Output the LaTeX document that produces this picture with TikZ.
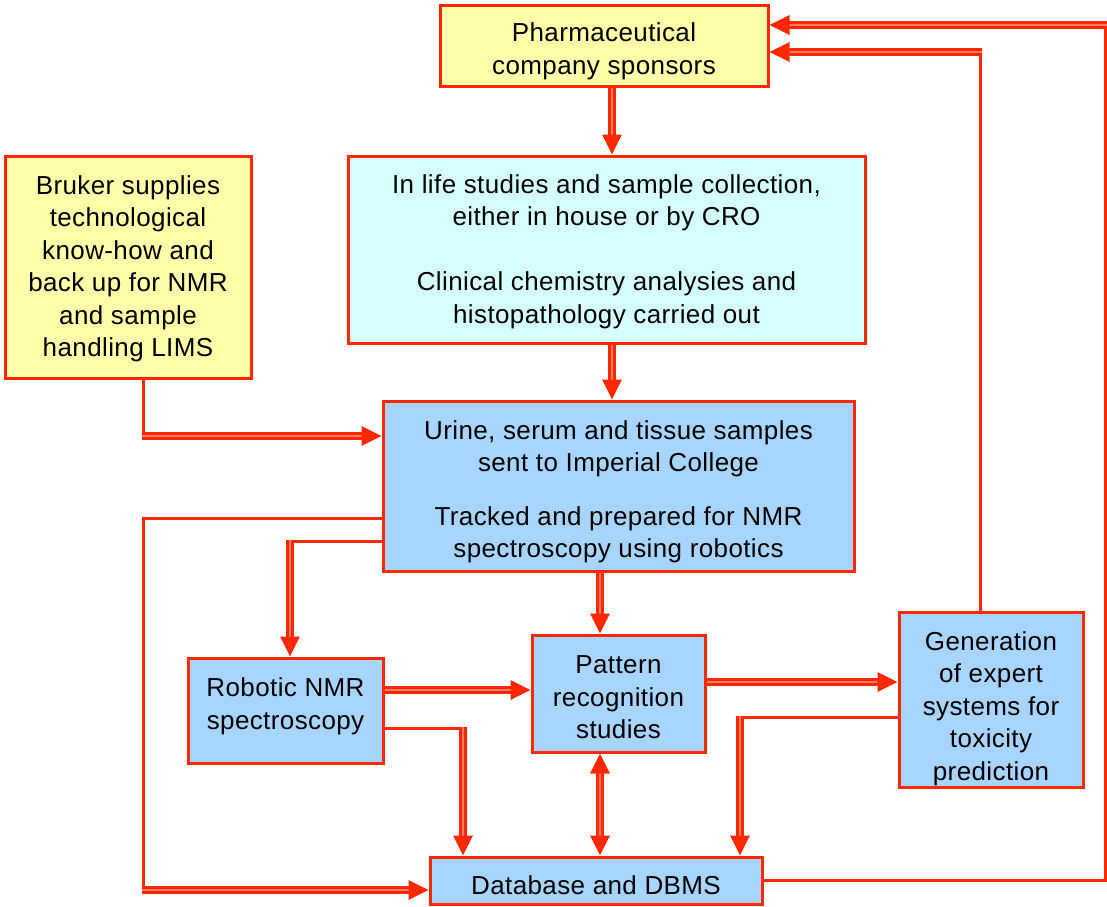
\documentclass[tikz,border=0pt]{standalone}
\usepackage{fontspec}
\setmainfont{Liberation Sans}[LetterSpace=1.5]
\usetikzlibrary{arrows.meta}
\definecolor{flowred}{RGB}{255,40,0}
\definecolor{flowcore}{RGB}{255,125,100}
\definecolor{sponsorfill}{RGB}{255,255,170}
\definecolor{lifefill}{RGB}{213,255,255}
\definecolor{labfill}{RGB}{168,213,255}
\begin{document}
\begin{tikzpicture}[x=1pt,y=-1pt,
	flowbox/.style={draw=flowred,line width=3pt,inner sep=0pt,align=center,
		font=\fontsize{26}{32.5}\selectfont},
	link/.style={draw=flowred,line width=3pt},
	feed/.style={draw=flowred,line width=3.4pt,double=flowcore,double distance=1.1pt,
		-{Triangle[width=19pt,length=20pt]}},
	feedboth/.style={feed,{Triangle[width=19pt,length=20pt]}-{Triangle[width=19pt,length=20pt]}}]
	\useasboundingbox (0,0) rectangle (1107,906);
	\node[flowbox,text height=57.5pt,text depth=0pt,fill=sponsorfill,minimum width=328pt,minimum height=81pt] (sponsor) at (604,45.5)
		{Pharmaceutical\\company sponsors};
	\node[flowbox,text depth=1.5pt,fill=sponsorfill,minimum width=246pt,minimum height=222pt] (bruker) at (128,267)
		{Bruker supplies\\technological\\know-how and\\back up for NMR\\and sample\\handling LIMS};
	\node[flowbox,text depth=1.5pt,fill=lifefill,minimum width=517pt,minimum height=187pt] (life) at (606.5,249.5)
		{In life studies and sample collection,\\either in house or by CRO\\[32.5pt]
		Clinical chemistry analysies and\\histopathology carried out};
	\node[flowbox,text height=143.5pt,text depth=0pt,fill=labfill,minimum width=471pt,minimum height=170pt] (urine) at (618.5,486)
		{Urine, serum and tissue samples\\sent to Imperial College\\[21pt]
		Tracked and prepared for NMR\\spectroscopy using robotics};
	\node[flowbox,text depth=13.5pt,fill=labfill,minimum width=195pt,minimum height=105pt] (robot) at (285.5,710.5)
		{Robotic NMR\\spectroscopy};
	\node[flowbox,text height=90pt,text depth=0pt,fill=labfill,minimum width=173pt,minimum height=117pt] (pattern) at (618.5,693.5)
		{Pattern\\recognition\\studies};
	\node[flowbox,text height=161pt,text depth=0pt,fill=labfill,minimum width=184pt,minimum height=175pt] (expert) at (991,699.5)
		{Generation\\of expert\\systems for\\toxicity\\prediction};
	\node[flowbox,text height=27pt,text depth=0pt,fill=labfill,minimum width=332pt,minimum height=47pt] (db) at (596,880.5)
		{Database and DBMS};

	\coordinate (brk) at ([xshift=15pt]bruker.south);
	\coordinate (urw) at ([yshift=50pt]urine.west);
	\coordinate (urs) at ([yshift=-55pt]urine.west);
	\coordinate (urd) at ([yshift=-32pt]urine.west);
	\coordinate (rbn) at ([xshift=4.5pt]robot.north);
	\coordinate (rbe) at ([yshift=-17.5pt]robot.east);
	\coordinate (exw) at ([yshift=-17.5pt]expert.west);
	\coordinate (exn) at ([xshift=-11pt]expert.north);
	\coordinate (dbw) at ([yshift=-9.5pt]db.west);
	\coordinate (dbl) at ([xshift=-133pt]db.north);
	\coordinate (dbr) at ([xshift=144pt]db.north);
	\coordinate (spa) at ([yshift=20.5pt]sponsor.east);
	\coordinate (spb) at ([yshift=-6.5pt]sponsor.east);
	\coordinate (rim) at (1105,880.5);

	\draw[feed] ([xshift=8pt]sponsor.south) -- ([xshift=5.5pt]life.north);
	\draw[feed] ([xshift=5.5pt]life.south) -- ([xshift=-6.5pt]urine.north);
	\draw[link] (brk) -- (brk |- urw);
	\draw[feed] ([xshift=-1.5pt]brk |- urw) -- (urw);
	\draw[link] (urs) -- (urs -| rbn);
	\draw[feed] ([yshift=1.5pt]urs -| rbn) -- (rbn);
	\draw[link] (urd) -| (brk |- dbw);
	\draw[feed] ([xshift=-1.5pt]brk |- dbw) -- (dbw);
	\draw[feed] ([xshift=-18.5pt]urine.south) -- ([xshift=-18.5pt]pattern.north);
	\draw[feed] ([yshift=20.5pt]robot.east) -- ([yshift=3.5pt]pattern.west);
	\draw[link] (rbe) -- (rbe -| dbl);
	\draw[feed] ([yshift=1.5pt]rbe -| dbl) -- (dbl);
	\draw[feedboth] ([xshift=-18.5pt]pattern.south) -- ([xshift=4pt]db.north);
	\draw[feed] ([yshift=11.5pt]pattern.east) -- ([yshift=17.5pt]expert.west);
	\draw[link] (exw) -- (exw -| dbr);
	\draw[feed] ([yshift=1.5pt]exw -| dbr) -- (dbr);
	\draw[link] (exn) -- (exn |- spb);
	\draw[feed] ([xshift=1.5pt]exn |- spb) -- (spb);
	\draw[link] (db.east) -| (rim |- spa);
	\draw[feed] ([xshift=1.5pt]rim |- spa) -- (spa);
\end{tikzpicture}
\end{document}
